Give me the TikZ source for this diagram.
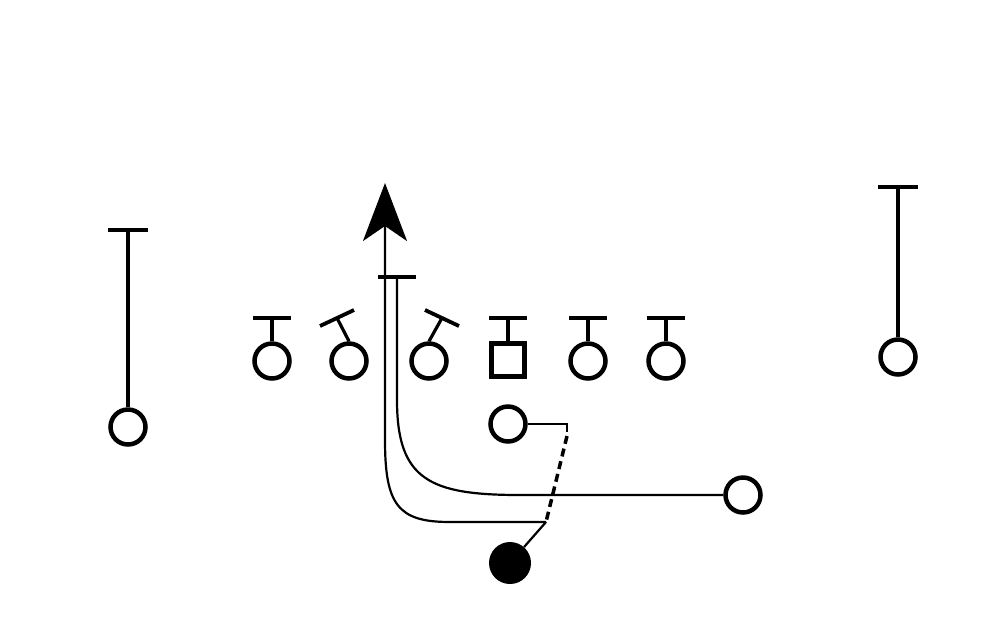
\documentclass[tikz,border=0pt]{standalone}
\usetikzlibrary{arrows.meta,calc}
\begin{document}
\begin{tikzpicture}[x=1pt,y=-1pt,
  player/.style={circle,draw,line width=4.5pt,minimum size=35pt,inner sep=0pt},
  centre/.style={rectangle,draw,line width=4.5pt,minimum size=33pt,inner sep=0pt},
  ball/.style={circle,fill,minimum size=42pt,inner sep=0pt},
  stem/.style={line width=3.2pt},
  bar/.style={line width=3.8pt},
  route/.style={line width=2.2pt},
  dashroute/.style={line width=3.5pt,dash pattern=on 8pt off 5pt}]
\useasboundingbox[fill=white] (0,0) rectangle (992,625);
% players
\node[player] (lwr) at (128,427) {};
\node[player] (rwr) at (898,357) {};
\node[player] (l1) at (272,361) {};
\node[player] (l2) at (349,361) {};
\node[player] (l3) at (429,361) {};
\node[centre] (c) at (508,360) {};
\node[player] (r1) at (588,361) {};
\node[player] (r2) at (666,361) {};
\node[player] (fb) at (508,424) {};
\node[player] (wb) at (743,495) {};
\node[ball] (bc) at (510,563) {};
% block ends
\coordinate (lwrT) at (128,230);
\coordinate (rwrT) at (898,187);
\coordinate (l1T) at (272,318);
\coordinate (l2T) at (337,318);
\coordinate (l3T) at (442,318);
\coordinate (cT) at (508,318);
\coordinate (r1T) at (588,318);
\coordinate (r2T) at (666,318);
\draw[stem] (lwr.north) -- (lwrT);
\draw[bar] ($(lwrT)+(-20,0)$) -- ($(lwrT)+(20,0)$);
\draw[stem] (rwr.north) -- (rwrT);
\draw[bar] ($(rwrT)+(-20,0)$) -- ($(rwrT)+(20,0)$);
\draw[stem] (l1.north) -- (l1T);
\draw[bar] ($(l1T)+(-19,0)$) -- ($(l1T)+(19,0)$);
\draw[stem] (l2.north) -- (l2T);
\draw[bar] ($(l2T)+(-17,8)$) -- ($(l2T)+(17,-8)$);
\draw[stem] (l3.north) -- (l3T);
\draw[bar] ($(l3T)+(-17,-8)$) -- ($(l3T)+(17,8)$);
\draw[stem] (c.north) -- (cT);
\draw[bar] ($(cT)+(-19,0)$) -- ($(cT)+(19,0)$);
\draw[stem] (r1.north) -- (r1T);
\draw[bar] ($(r1T)+(-19,0)$) -- ($(r1T)+(19,0)$);
\draw[stem] (r2.north) -- (r2T);
\draw[bar] ($(r2T)+(-19,0)$) -- ($(r2T)+(19,0)$);
% routes
\coordinate (hand) at (546,522);
\coordinate (fbturn) at (567,424);
\coordinate (goal) at (385,183);
\coordinate (fakeT) at (397,277);
\draw[route] (bc) -- (hand);
\draw[route,-{Stealth[length=58pt,width=44pt,inset=15pt]}] (hand) -- (450,522)
  .. controls (398,522) and (385,505) .. (385,440) -- (goal);
\draw[route] (wb.west) -- (520,495) .. controls (430,495) and (397,480) .. (397,400) -- (fakeT);
\draw[bar] ($(fakeT)+(-19,0)$) -- ($(fakeT)+(19,0)$);
\draw[route] (fb.east) -- (fbturn) -- ++(0,8);
\draw[dashroute] ($(fbturn)+(0,12)$) -- (hand);
\end{tikzpicture}
\end{document}
